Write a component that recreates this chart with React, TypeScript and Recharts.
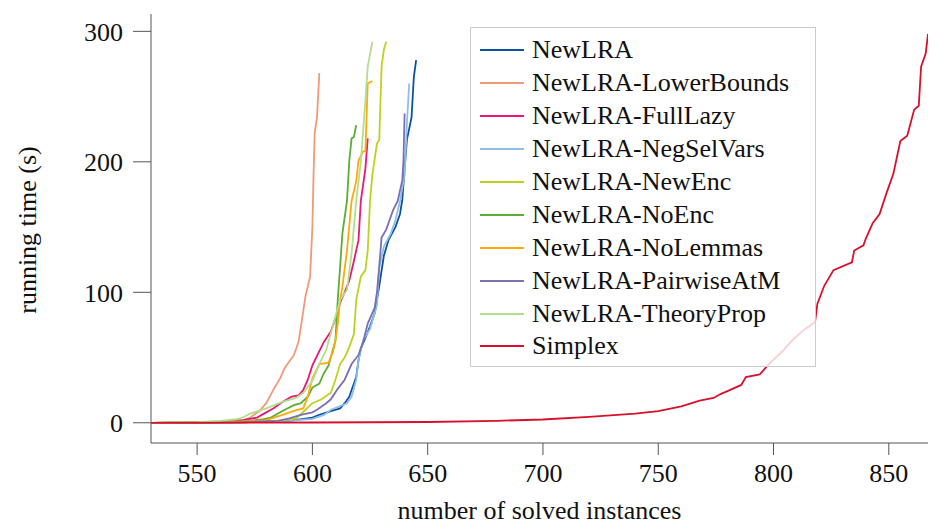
import { CartesianGrid, Label, Legend, Line, LineChart, XAxis, YAxis } from "recharts";

// cactus plot: [solved instances, running time (s)]
const newLRA = [[530,0],[550,0.1],[570,0.4],[590,1.5],[600,4],[603,6],[608,9],[612,11],[614,15],[616,20],[617,25],[619,35],[620,48],[621,57],[623,65],[625,74],[627,84],[629,105],[631,128],[633,140],[636,150],[638,160],[639,171],[640,195],[641,217],[643,234],[644,265],[645,278]];
const lowerBounds = [[530,0],[550,0.3],[560,0.8],[565,1.2],[570,2],[573,4],[577,9],[580,15],[583,25],[586,34],[588,42],[590,47],[592,52],[594,62],[596,85],[597,97],[599,112],[600,150],[600.5,190],[601,222],[602,234],[603,268]];
const fullLazy = [[530,0],[550,0.3],[560,0.8],[570,2],[576,4],[579,7],[583,11],[587,16],[591,20],[594,21],[596,25],[598,33],[600,44],[603,55],[605,62],[608,70],[610,80],[612,92],[614,100],[616,109],[618,124],[620,140],[621,170],[623,195],[624,218]];
const negSelVars = [[530,0],[550,0.1],[570,0.4],[590,1.5],[600,3],[605,6],[608,10],[611,12],[615,15],[617,20],[619,33],[620,48],[622,63],[625,72],[628,90],[629,119],[631,135],[634,145],[636,155],[638,170],[640,190],[641,230],[642,260]];
const newEnc = [[530,0],[550,0.1],[570,0.6],[585,1.5],[593,3.4],[597,10],[600,15],[604,18],[608,23],[610,33],[612,45],[614,50],[616,58],[618,68],[619,94],[621,112],[623,117],[624,132],[625,170],[626,190],[628,214],[629,217],[630,273],[631,286],[632,292]];
const noEnc = [[530,0],[550,0.2],[560,0.6],[570,1.2],[578,2.5],[582,4],[587,9],[592,13.5],[595,15],[598,20],[600,27],[603,30],[605,38],[607,44],[610,63],[611,94],[612,119],[613,145],[615,170],[616,201],[617,218],[618,219],[619,228]];
const noLemmas = [[530,0],[550,0.2],[560,0.5],[570,1],[580,2],[587,6],[593,9.7],[596,11],[598,20],[600,34],[603,45],[607,46],[609,55],[610,63],[611,76],[612,94],[613,104],[615,132],[617,170],[619,185],[620,201],[622,208],[623,208],[624,260],[626,262]];
const pairwiseAtM = [[530,0],[550,0.1],[570,0.5],[585,1.5],[590,3.4],[595,6],[600,8],[602,10],[606,15],[608,18],[611,26],[614,33],[617,45],[620,52],[622,62],[624,76],[627,88],[628,100],[629,120],[630,142],[632,148],[635,163],[637,170],[639,186],[639.5,201],[640,237]];
const theoryProp = [[530,0],[550,0.5],[560,1.5],[566,2.5],[569,3.5],[573,7],[580,11],[587,16],[593,19],[596,23],[600,32],[603,45],[606,56],[609,75],[612,94],[615,102],[617,130],[619,170],[621,200],[623,247],[624,273],[626,292]];
const simplex = [[530,0],[600,0.2],[650,0.6],[680,1.5],[700,2.5],[720,4.5],[740,7],[750,9],[760,12.5],[768,17],[774,19],[777,22],[781,25],[786,29],[788,35],[794,37],[798,45],[804,55],[808,63],[813,71],[818,77],[819,91],[822,105],[826,117],[834,123],[835,132],[839,136],[840,141],[843,153],[846,160],[849,176],[852,191],[855,216],[858,220],[861,240],[863,243],[864,273],[866,283],[867,298]];

const series = [
  { name: "NewLRA", color: "#0a52a0", points: newLRA },
  { name: "NewLRA-LowerBounds", color: "#ef9a7a", points: lowerBounds },
  { name: "NewLRA-FullLazy", color: "#e7187a", points: fullLazy },
  { name: "NewLRA-NegSelVars", color: "#8fbde6", points: negSelVars },
  { name: "NewLRA-NewEnc", color: "#bdd21f", points: newEnc },
  { name: "NewLRA-NoEnc", color: "#5aae32", points: noEnc },
  { name: "NewLRA-NoLemmas", color: "#ffa90a", points: noLemmas },
  { name: "NewLRA-PairwiseAtM", color: "#7b70b4", points: pairwiseAtM },
  { name: "NewLRA-TheoryProp", color: "#b2df8a", points: theoryProp },
  { name: "Simplex", color: "#d8102c", points: simplex },
];

const xTicks = [550, 600, 650, 700, 750, 800, 850];
const yTicks = [0, 100, 200, 300];

const FONT = '"Liberation Serif", "DejaVu Serif", "Noto Serif", serif';
const AXIS = "#555";

// keep the legend in series order (recharts sorts by name otherwise)
const LegendBox = () => (
  <div
    style={{
      width: 346,
      height: 340,
      boxSizing: "border-box",
      border: "1px solid #cccccc",
      background: "rgba(255,255,255,0.8)",
      paddingTop: 6,
      fontFamily: FONT,
      fontSize: 26,
      color: "#111",
    }}
  >
    {series.map((s) => (
      <div key={s.name} style={{ display: "flex", alignItems: "center", height: 32.9 }}>
        <span style={{ marginLeft: 9, width: 44, height: 0, borderTop: `2px solid ${s.color}` }} />
        <span style={{ marginLeft: 8, whiteSpace: "nowrap", lineHeight: "26px", fontFamily: FONT }}>{s.name}</span>
      </div>
    ))}
  </div>
);

export default function App() {
  return (
    <div style={{ position: "absolute", left: 0, top: 0, width: 936, height: 527, background: "#fff", fontFamily: FONT }}>
      <LineChart width={936} height={527} margin={{ top: 14, right: 8, bottom: 0, left: 0 }} style={{ fontFamily: FONT }}>
        <XAxis
          dataKey="n"
          type="number"
          domain={[530, 867]}
          allowDataOverflow
          ticks={xTicks}
          height={84}
          tickSize={12}
          tickMargin={9}
          stroke={AXIS}
          tick={{ fill: "#111", fontSize: 26, fontFamily: FONT }}
        >
          <Label value="number of solved instances" position="insideBottom" offset={8} style={{ fill: "#111", fontSize: 26, fontFamily: FONT }} />
        </XAxis>
        <XAxis
          xAxisId="top"
          orientation="top"
          dataKey="n"
          type="number"
          domain={[530, 867]}
          allowDataOverflow
          ticks={xTicks}
          height={0}
          tickSize={11}
          tick={false}
          stroke={AXIS}
        />
        <YAxis
          type="number"
          domain={[-15.5, 313.3]}
          allowDataOverflow
          ticks={yTicks}
          width={151}
          tickSize={18}
          tickMargin={10}
          stroke={AXIS}
          tick={{ fill: "#111", fontSize: 26, fontFamily: FONT }}
        >
          <Label
            content={() => (
              <text x={27} y={230} transform="rotate(-90 27 230)" textAnchor="middle" dominantBaseline="central" fill="#111" fontSize={26} fontFamily={FONT}>
                running time (s)
              </text>
            )}
          />
        </YAxis>
        <YAxis
          yAxisId="right"
          orientation="right"
          type="number"
          domain={[-15.5, 313.3]}
          allowDataOverflow
          ticks={yTicks}
          width={0}
          tickSize={9}
          tick={false}
          stroke={AXIS}
        />
        <CartesianGrid stroke="none" />
        {series.map((s) => (
          <Line
            key={s.name}
            name={s.name}
            data={s.points.map(([n, t]) => ({ n, t }))}
            dataKey="t"
            type="linear"
            stroke={s.color}
            strokeWidth={1.8}
            dot={false}
            activeDot={false}
            isAnimationActive={false}
          />
        ))}
        <Legend
          layout="vertical"
          align="center"
          verticalAlign="middle"
          content={<LegendBox />}
          wrapperStyle={{ left: 470, top: 27, width: 346, height: 340 }}
        />
      </LineChart>
    </div>
  );
}
